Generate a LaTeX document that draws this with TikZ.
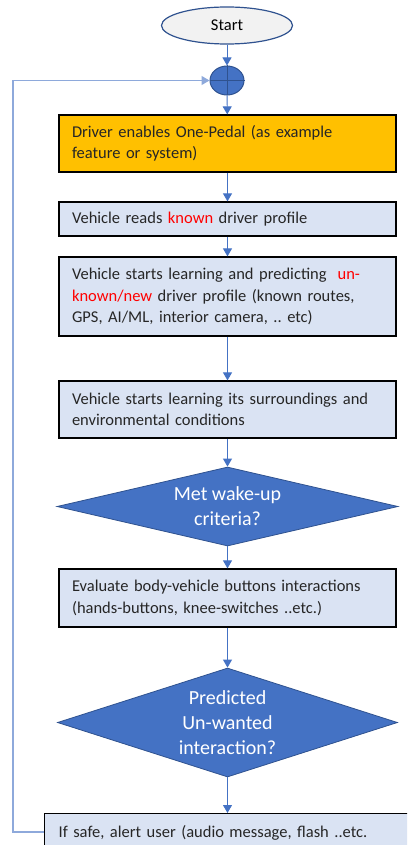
\documentclass[tikz,border=0pt]{standalone}
\usepackage{fontspec}
\usepackage{xcolor}
\setmainfont{Carlito}
\usetikzlibrary{shapes.geometric,arrows.meta}
\hyphenpenalty=10000
\frenchspacing

\definecolor{flowblue}{HTML}{4472C4}
\definecolor{flowdark}{HTML}{2F528F}
\definecolor{loopblue}{HTML}{8EA9DB}
\definecolor{boxblue}{HTML}{DAE3F3}
\definecolor{boxorange}{HTML}{FFC000}
\definecolor{startgray}{HTML}{F2F2F2}

\begin{document}
\begin{tikzpicture}[x=1pt,y=-1pt,
	proc/.style={draw=black, line width=1.2pt, fill=boxblue, text width=311pt, align=left,
		inner xsep=13pt, inner ysep=0pt, text=black!85, font=\fontsize{16.5}{21.5}\selectfont},
	decide/.style={diamond, draw=flowdark, line width=0.8pt, fill=flowblue, text=white,
		align=center, inner sep=0pt, font=\fontsize{20}{25}\selectfont},
	flow/.style={draw=flowblue, line width=0.9pt, -{Triangle[width=9pt,length=8pt]}}]
	\clip (0,0) rectangle (407,845);
	% start and summing junction
	\node[ellipse, draw=flowdark, line width=1.2pt, fill=startgray, minimum width=131pt, minimum height=37pt,
		font=\fontsize{16.5}{20}\selectfont] (start) at (227,25.5) {Start};
	\node[ellipse, draw=flowdark, line width=1pt, fill=flowblue, minimum width=34pt, minimum height=29pt,
		inner sep=0pt] (sum) at (227,80.5) {};
	\draw[flowdark, line width=1pt] (sum.north) -- (sum.south) (sum.west) -- (sum.east);
	% process steps
	\node[proc, fill=boxorange, minimum height=57pt] (enable) at (227.5,143.5)
		{Driver enables One-Pedal (as example feature or system)};
	\node[proc, minimum height=34pt] (known) at (227.5,219)
		{Vehicle reads \textcolor{red}{known} driver profile};
	\node[proc, minimum height=79pt] (learn) at (227.5,296.5)
		{Vehicle starts learning and predicting \ \textcolor{red}{un-known/new} driver profile (known routes, GPS, AI/ML, interior camera, .. etc)};
	\node[proc, minimum height=57pt] (env) at (227.5,409.5)
		{Vehicle starts learning its surroundings and environmental conditions};
	\node[decide, minimum width=341pt, minimum height=79pt, aspect=4.3] (wake) at (227.5,506.5)
		{Met wake-up\\criteria?};
	\node[proc, minimum height=58pt] (eval) at (227.5,598)
		{Evaluate body-vehicle buttons interactions (hands-buttons, knee-switches ..etc.)};
	\node[decide, minimum width=340pt, minimum height=109pt, aspect=3.1] (unwanted) at (227.5,722.5)
		{Predicted\\Un-wanted\\interaction?};
	\node[proc, anchor=north west, text width=360pt, inner xsep=14pt, inner ysep=12pt] (alert) at (44,813)
		{If safe, alert user (audio message, flash ..etc.};
	% connectors
	\draw[flow] (start) -- (sum);
	\draw[flow] (sum) -- (enable);
	\draw[flow] (enable) -- (known);
	\draw[flow] (known) -- (learn);
	\draw[flow] (learn) -- (env);
	\draw[flow] (env) -- (wake);
	\draw[flow] (wake) -- (eval);
	\draw[flow] (eval) -- (unwanted);
	\draw[flow] (unwanted) -- (alert.north -| unwanted);
	\coordinate (loopfoot) at (13,832);
	\coordinate (loophead) at (13,80.5);
	\draw[flow, draw=loopblue, line width=1.3pt] (alert.west |- loopfoot) -- (loopfoot) -- (loophead) -- (sum.west);
\end{tikzpicture}
\end{document}
